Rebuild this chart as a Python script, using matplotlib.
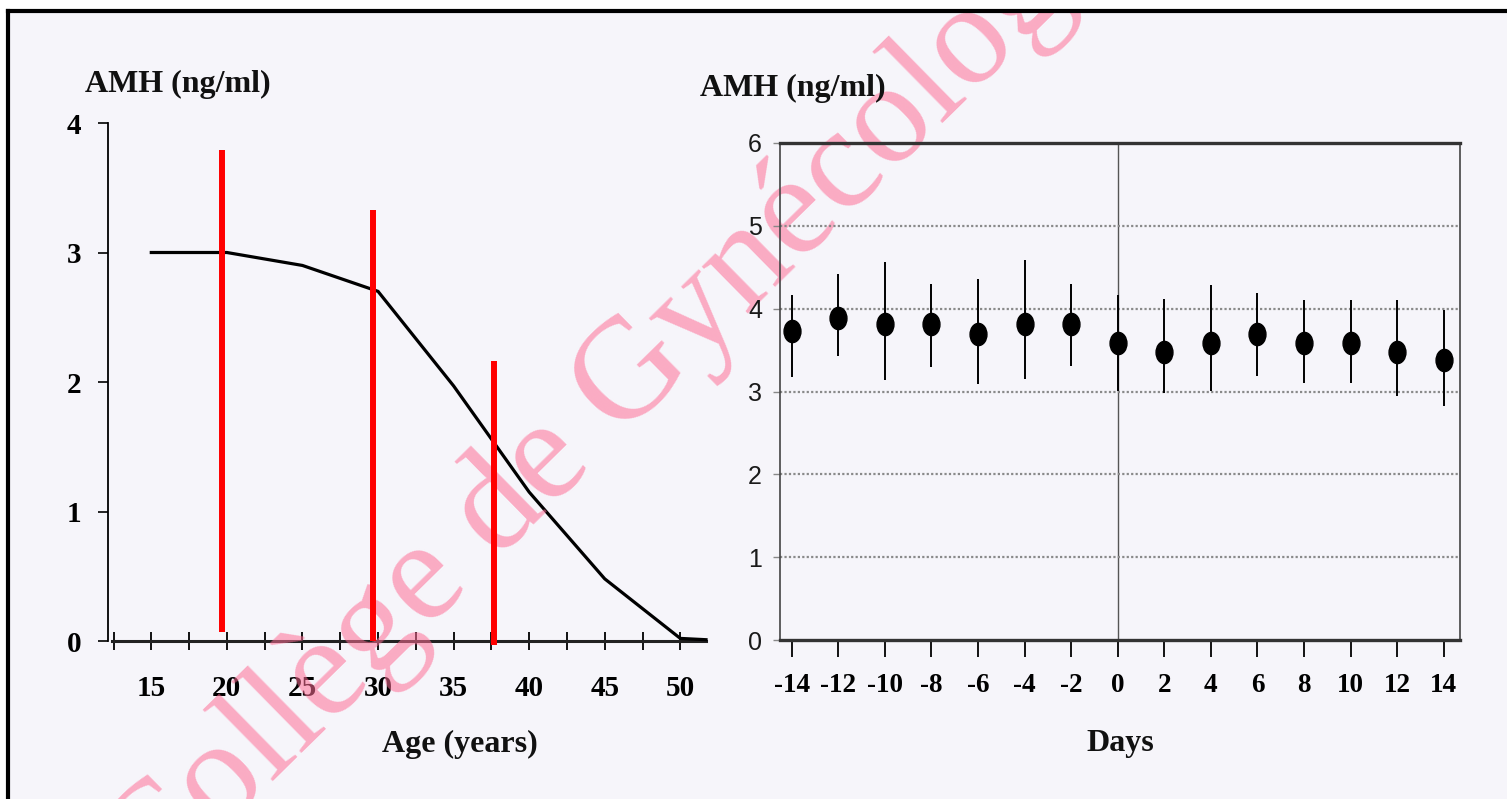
import numpy as np
import matplotlib
matplotlib.use("Agg")
import matplotlib.pyplot as plt
from matplotlib.path import Path
from matplotlib.patches import Rectangle
from matplotlib.lines import Line2D

plt.rcParams["axes.unicode_minus"] = False

# Left panel: AMH against age
age = [15, 20, 25, 30, 35, 40, 45, 50, 51.7]
amh_age = [3.0, 3.0, 2.9, 2.7, 1.97, 1.15, 0.48, 0.02, 0.01]
age_ticks = [15, 20, 25, 30, 35, 40, 45, 50]
age_minor = [12.5, 17.5, 22.5, 27.5, 32.5, 37.5, 42.5, 47.5]
amh_ticks = [0, 1, 2, 3, 4]

# red markers added on the left panel
red_age = [19.7, 29.7, 37.7]
red_top = [3.79, 3.33, 2.16]
red_bottom = [0.07, 0.0, -0.03]

# Right panel: AMH over the cycle (mean and range)
days = [-14, -12, -10, -8, -6, -4, -2, 0, 2, 4, 6, 8, 10, 12, 14]
amh_mean = [3.73, 3.89, 3.82, 3.82, 3.70, 3.82, 3.82, 3.59, 3.48, 3.59, 3.70, 3.59, 3.59, 3.48, 3.38]
amh_high = [4.16, 4.42, 4.56, 4.30, 4.36, 4.59, 4.30, 4.16, 4.12, 4.29, 4.19, 4.10, 4.10, 4.10, 3.98]
amh_low = [3.17, 3.43, 3.14, 3.30, 3.09, 3.15, 3.31, 3.01, 2.98, 3.01, 3.19, 3.10, 3.10, 2.95, 2.83]
day_ticks = days
cycle_ticks = [0, 1, 2, 3, 4, 5, 6]

W, H = 1507, 799
BG = "#f6f5fa"
SERIF = "Liberation Serif"
SANS = "Liberation Sans"

fig = plt.figure(figsize=(W / 100, H / 100), dpi=100, facecolor=BG)

# white margin and black frame (left and top only)
fig.patches.append(Rectangle((0, 1 - 9 / H), 1, 9 / H, transform=fig.transFigure,
                             facecolor="white", edgecolor="none", zorder=0))
fig.patches.append(Rectangle((0, 0), 6 / W, 1, transform=fig.transFigure,
                             facecolor="white", edgecolor="none", zorder=0))
fig.lines.append(Line2D([8 / W, 8 / W], [0, 1 - 11 / H], transform=fig.transFigure,
                        color="black", lw=3, solid_capstyle="projecting"))
fig.lines.append(Line2D([8 / W, 1], [1 - 11 / H, 1 - 11 / H], transform=fig.transFigure,
                        color="black", lw=3, solid_capstyle="projecting"))

# ---------- left panel ----------
ax1 = fig.add_axes([112 / W, 1 - 641 / H, 594 / W, 518 / H], facecolor="none")
ax1.plot(age, amh_age, color="black", lw=2.3, zorder=3, clip_on=False)
ax1.vlines(red_age, red_bottom, red_top, color="#ff0000", lw=4.3, zorder=6, clip_on=False)
ax1.set_xlim(12.4, 51.7)
ax1.set_ylim(0, 4)
for s in ["top", "right"]:
    ax1.spines[s].set_visible(False)
ax1.spines["left"].set_linewidth(1.3)
ax1.spines["left"].set_position(("outward", 3))
ax1.spines["bottom"].set_linewidth(2.2)
ax1.spines["bottom"].set_color("#222222")
ax1.set_xticks(age_ticks)
ax1.set_xticks(age_minor, minor=True)
ax1.set_yticks(amh_ticks)
ax1.tick_params(axis="x", which="both", direction="inout", length=13, width=1.3,
                pad=18, labelsize=21)
ax1.tick_params(axis="y", direction="out", length=7, width=1.2, pad=12, labelsize=21)
for lab in ax1.get_xticklabels() + ax1.get_yticklabels():
    lab.set_fontfamily(SERIF)
    lab.set_fontweight("bold")

# watermark between the black drawing and the red lines
ax1.text(151 / W, 1 - 901 / H, "Collège de Gynécologie", transform=fig.transFigure,
         rotation=44.5, rotation_mode="anchor", ha="left", va="baseline",
         fontsize=104, family=SERIF, color="#ff6e96", alpha=0.55, zorder=5, clip_on=False)

# ---------- right panel ----------
ax2 = fig.add_axes([780 / W, 1 - 640 / H, 680 / W, 497 / H], facecolor="none")
ell = Path.unit_circle()
ell_marker = Path(ell.vertices * np.array([0.76, 1.0]), ell.codes)
mean = np.array(amh_mean)
yerr = [mean - np.array(amh_low), np.array(amh_high) - mean]
ax2.errorbar(days, amh_mean, yerr=yerr, fmt="none", ecolor="black", elinewidth=1.4,
             capsize=0, zorder=3)
ax2.plot(days, amh_mean, linestyle="none", marker=ell_marker, markersize=16,
         color="black", zorder=4)
ax2.set_xlim(-14.5, 14.7)
ax2.set_ylim(0, 6)
ax2.axvline(0, color="#555555", lw=1.0, zorder=1)
for v in [1, 2, 3, 4, 5]:
    ax2.axhline(v, color="#8a8a8a", lw=1.6, linestyle=(0, (1, 1)), zorder=1)
ax2.spines["top"].set_linewidth(2.4)
ax2.spines["top"].set_color("#333333")
ax2.spines["bottom"].set_linewidth(2.4)
ax2.spines["bottom"].set_color("#333333")
ax2.spines["left"].set_linewidth(1.2)
ax2.spines["left"].set_color("#444444")
ax2.spines["right"].set_linewidth(1.2)
ax2.spines["right"].set_color("#444444")
ax2.set_xticks(day_ticks)
ax2.set_yticks(cycle_ticks)
ax2.tick_params(axis="x", direction="out", length=12, width=1.3, pad=12, labelsize=19.5)
ax2.tick_params(axis="y", direction="out", length=5, width=1.0, color="#888888",
                pad=8, labelsize=18)
for lab in ax2.get_xticklabels():
    lab.set_fontfamily(SERIF)
    lab.set_fontweight("bold")
for lab in ax2.get_yticklabels():
    lab.set_fontfamily(SANS)
    lab.set_color("#1a1a1a")

# ---------- labels ----------
lab_kw = dict(family=SERIF, fontweight="bold", fontsize=23, color="#111111")
fig.text(85 / W, 1 - 84 / H, "AMH (ng/ml)", ha="left", va="center", **lab_kw)
fig.text(700 / W, 1 - 88 / H, "AMH (ng/ml)", ha="left", va="center", **lab_kw)
fig.text(460 / W, 1 - 744 / H, "Age (years)", ha="center", va="center", **lab_kw)
fig.text(1120 / W, 1 - 743 / H, "Days", ha="center", va="center", **lab_kw)

fig.savefig("out.png", dpi=100, facecolor=BG)
